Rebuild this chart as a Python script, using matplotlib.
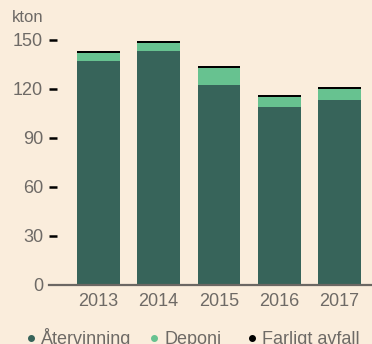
import numpy as np
import matplotlib.pyplot as plt
from matplotlib.lines import Line2D

plt.rcParams['font.family'] = ['Liberation Sans', 'DejaVu Sans']

years = ['2013', '2014', '2015', '2016', '2017']
atervinning = [137, 143, 122.2, 108.7, 113]
deponi = [4.8, 4.9, 10.4, 6.1, 6.7]
farligt = [1.2, 1.2, 1.2, 1.2, 1.2]

bg = '#FAEDDC'
c_dark = '#37645A'
c_light = '#67C290'
c_black = '#000000'
txt = '#6E6A66'

fig = plt.figure(figsize=(3.72, 3.44), dpi=100, facecolor=bg)
W, H = 372, 344
ax = fig.add_axes([49 / W, (H - 284.5) / H, 1 - 49 / W, 284.5 / H])
ax.set_facecolor(bg)

x = np.arange(len(years))
bw = 0.71
a = np.array(atervinning)
d = np.array(deponi)
f = np.array(farligt)
ax.bar(x, a, bw, color=c_dark)
ax.bar(x, d, bw, bottom=a, color=c_light)
ax.bar(x, f, bw, bottom=a + d, color=c_black)

ax.set_xlim(-0.82, 4.54)
ax.set_ylim(0, 284.5 / 1.633)
for s in ['top', 'right', 'left']:
    ax.spines[s].set_visible(False)
ax.spines['bottom'].set_color('#6B6763')
ax.spines['bottom'].set_linewidth(1.6)

ax.set_yticks([0, 30, 60, 90, 120, 150])
ax.tick_params(axis='y', direction='in', length=6, width=1.8, color='black',
               labelsize=13, labelcolor=txt, pad=4.3)
ax.yaxis.get_major_ticks()[0].tick1line.set_visible(False)
ax.set_xticks(x)
ax.set_xticklabels(years)
ax.tick_params(axis='x', length=0, labelsize=13, labelcolor=txt, pad=6)

fig.text(12 / W, 1 - 22 / H, 'kton', fontsize=12, color=txt, va='baseline')

# legend row along the bottom edge
items = [('Återvinning', c_dark, 31), ('Deponi', c_light, 154), ('Farligt avfall', c_black, 252)]
for label, col, px in items:
    fig.add_artist(Line2D([px / W], [1 - 338 / H], marker='o', markersize=4,
                          color=col, linestyle='none', transform=fig.transFigure))
    fig.text((px + 10) / W, 1 - 343.5 / H, label, fontsize=13, color=txt, va='baseline')

fig.savefig('out.png', dpi=100, facecolor=bg)
